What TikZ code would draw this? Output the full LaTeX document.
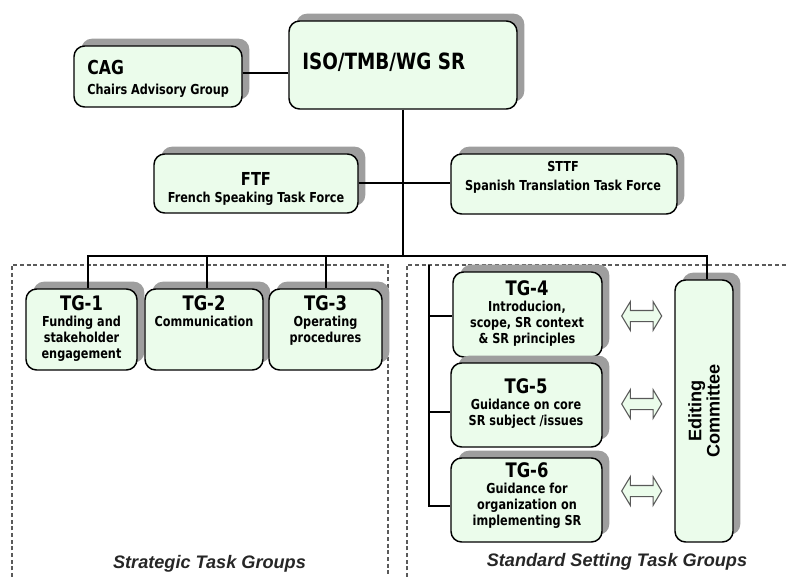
\documentclass[tikz,border=0pt]{standalone}
\usepackage{fontspec}
\setmainfont{DejaVu Sans}[FakeStretch=0.82]
\newfontfamily\labelfont{Liberation Sans}
\usetikzlibrary{shadows,shapes.arrows}
\definecolor{boxgreen}{RGB}{235,252,235}
\definecolor{shadegray}{RGB}{158,158,158}
\definecolor{framegray}{RGB}{90,90,90}

\begin{document}
\begin{tikzpicture}[x=0.75pt,y=0.75pt,yscale=-1,xscale=1,
  grpbox/.style={draw, line width=1.1pt, rounded corners=8pt, fill=boxgreen, inner sep=0pt,
    drop shadow={shadow xshift=5.5pt, shadow yshift=5.5pt, fill=shadegray, opacity=1}},
  wire/.style={line width=1.5pt},
  groupframe/.style={draw=framegray, line width=0.8pt, dash pattern=on 3pt off 2pt},
  boxtext/.style={inner sep=0pt, align=center, font=\bfseries\fontsize{10.3}{12}\selectfont},
  xarrow/.style={double arrow, draw=black!65, fill=boxgreen, line width=0.8pt, inner sep=3.75pt,
    minimum height=30pt, double arrow head extend=6.6pt, double arrow tip angle=118},
  grplabel/.style={font=\labelfont\bfseries\itshape\fontsize{13.6}{16}\selectfont, text=black!85, inner sep=0pt}
]
\useasboundingbox (0,0) rectangle (788,577);

%Dashed group frames
\draw[groupframe] (12,577) -- (12,265) -- (388,265) -- (388,577);
\draw[groupframe] (407,577) -- (407,265) -- (788,265);

%Shape: boxes
\node[grpbox, minimum width=126pt, minimum height=45.75pt] (cag) at (158,76.5) {};
\node[grpbox, minimum width=171pt, minimum height=66pt] (iso) at (403,65) {};
\node[grpbox, minimum width=153pt, minimum height=44.25pt] (ftf) at (256,183.5) {};
\node[grpbox, minimum width=169.5pt, minimum height=45pt] (sttf) at (564,184) {};
\node[grpbox, minimum width=83.25pt, minimum height=60.75pt] (tg1) at (81.5,329.5) {};
\node[grpbox, minimum width=88.5pt, minimum height=60.75pt] (tg2) at (204,329.5) {};
\node[grpbox, minimum width=84.75pt, minimum height=60.75pt] (tg3) at (325.5,329.5) {};
\node[grpbox, minimum width=111.75pt, minimum height=63.75pt] (tg4) at (527.5,314.5) {};
\node[grpbox, minimum width=113.25pt, minimum height=63pt] (tg5) at (526.5,405) {};
\node[grpbox, minimum width=113.25pt, minimum height=63pt] (tg6) at (526.5,500) {};
\node[grpbox, minimum width=43.5pt, minimum height=196.5pt] (ec) at (704,411) {};

%Straight Lines
\coordinate (bus) at (403,256);
\coordinate (d1) at (88,256);
\coordinate (d2) at (207,256);
\coordinate (d3) at (326,256);
\coordinate (de) at (707,256);
\coordinate (brk) at (429,265);
\coordinate (b4) at (429,316);
\coordinate (b5) at (429,412);
\coordinate (b6) at (429,506);
\coordinate (c1) at (288,73);
\draw[wire] (cag.east |- c1) -- (c1);
\draw[wire] (iso.south) -- (bus);
\draw[wire] (ftf.east) -- (ftf.east -| sttf.west);
\draw[wire] (d1 |- tg1.north) -- (d1) -- (de) -- (de |- ec.north);
\draw[wire] (d2) -- (d2 |- tg2.north);
\draw[wire] (d3) -- (d3 |- tg3.north);
\draw[wire] (brk) -- (b6) -- (b6 -| tg6.west);
\draw[wire] (b4) -- (b4 -| tg4.west);
\draw[wire] (b5) -- (b5 -| tg5.west);

%Double arrows
\node[xarrow] (a4) at (641.7,316) {};
\node[xarrow] (a5) at (641.7,404) {};
\node[xarrow] (a6) at (641.7,491) {};

% Text Node
\node[boxtext, anchor=north west] (isot) at (302,53) {\fontsize{16.8}{12}\selectfont ISO/TMB/WG SR};
% Text Node
\node[boxtext, anchor=north west, align=left] (cagt) at (87,60) {{\fontsize{14.4}{12}\selectfont CAG}\\[3pt] Chairs Advisory Group};
% Text Node
\node[boxtext, anchor=north] (ftft) at (256,172) {{\fontsize{13.4}{12}\selectfont FTF}\\[0.75pt] French Speaking Task Force};
% Text Node
\node[boxtext, anchor=north] (sttft) at (563,161) {STTF\\[2.25pt] Spanish Translation Task Force};
% Text Node
\node[boxtext, anchor=north] (tg1t) at (81.5,295) {{\fontsize{15}{12}\selectfont TG-1}\\ Funding and\\ stakeholder\\ engagement};
% Text Node
\node[boxtext, anchor=north] (tg2t) at (204,295) {{\fontsize{15}{12}\selectfont TG-2}\\ Communication};
% Text Node
\node[boxtext, anchor=north] (tg3t) at (325.5,295) {{\fontsize{15}{12}\selectfont TG-3}\\ Operating\\ procedures};
% Text Node
\node[boxtext, anchor=north] (tg4t) at (527,280) {{\fontsize{15}{12}\selectfont TG-4}\\ Introducion,\\ scope, SR context\\ \& SR principles};
% Text Node
\node[boxtext, anchor=north] (tg5t) at (526,378) {{\fontsize{15}{12}\selectfont TG-5}\\ Guidance on core\\ SR subject /issues};
% Text Node
\node[boxtext, anchor=north] (tg6t) at (527,462) {{\fontsize{15}{12}\selectfont TG-6}\\ Guidance for\\ organization on\\ implementing SR};
% Text Node
\node[inner sep=0pt, align=center, rotate=90, font=\labelfont\bfseries\fontsize{13.6}{13.8}\selectfont] (ect) at (ec.center) {Editing\\ Committee};
% Text Node
\node[grplabel, anchor=base] (stratt) at (209.5,568) {Strategic Task Groups};
% Text Node
\node[grplabel, anchor=base] (stdt) at (617,566) {Standard Setting Task Groups};
\end{tikzpicture}
\end{document}
